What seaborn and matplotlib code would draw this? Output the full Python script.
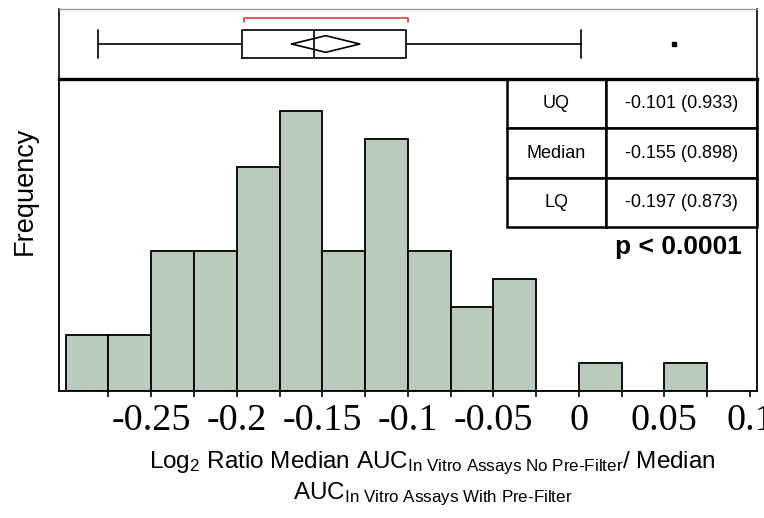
import matplotlib
matplotlib.use("Agg")
import matplotlib.pyplot as plt
import numpy as np
import seaborn as sns

# Histogram: bin edges (log2 ratio) and frequencies per bin
bin_edges = [-0.300, -0.275, -0.250, -0.225, -0.200, -0.175, -0.150, -0.125,
             -0.100, -0.075, -0.050, -0.025, 0.000, 0.025, 0.050, 0.075]
frequencies = [2, 2, 5, 5, 8, 10, 5, 9, 5, 3, 4, 0, 1, 0, 1]

# Outlier box plot summary
whisker_low = -0.281
lower_quartile = -0.197
median_value = -0.155
upper_quartile = -0.101
whisker_high = 0.001
outliers = [0.0555]
mean_value = -0.148
mean_ci_half = 0.0199
shortest_half = [-0.196, -0.100]

# Summary table and test result
table_labels = ["UQ", "Median", "LQ"]
table_values = ["-0.101 (0.933)", "-0.155 (0.898)", "-0.197 (0.873)"]
p_text = "p < 0.0001"

tick_values = [-0.25, -0.2, -0.15, -0.1, -0.05, 0, 0.05, 0.1]
tick_labels = ["-0.25", "-0.2", "-0.15", "-0.1", "-0.05", "0", "0.05", "0.1"]
minor_ticks = [-0.275, -0.225, -0.175, -0.125, -0.075, -0.025, 0.025, 0.075]

sns.set_theme(style="white")
plt.rcParams["font.family"] = ["Liberation Sans", "DejaVu Sans"]
plt.rcParams["text.color"] = "black"
plt.rcParams["axes.labelcolor"] = "black"
plt.rcParams["xtick.color"] = "black"
plt.rcParams["axes.unicode_minus"] = False
plt.rcParams["mathtext.fontset"] = "custom"
plt.rcParams["mathtext.rm"] = "Liberation Sans"
plt.rcParams["mathtext.it"] = "Liberation Sans:italic"
plt.rcParams["mathtext.bf"] = "Liberation Sans:bold"

fig = plt.figure(figsize=(7.64, 5.18), dpi=100)
ax = fig.add_axes([0.0768, 0.2458, 0.914, 0.6017])
ax_box = fig.add_axes([0.0768, 0.8475, 0.914, 0.1351], sharex=ax)

# Histogram
centers = [(a + b) / 2 for a, b in zip(bin_edges[:-1], bin_edges[1:])]
sns.histplot(x=centers, weights=frequencies, bins=bin_edges, ax=ax,
             color="#bacbbd", edgecolor="black", linewidth=1.3, alpha=1)
ax.set_xlim(-0.3041, 0.1041)
ax.set_ylim(0, 11.13)
ax.set_yticks([])
ax.set_ylabel("")
ax.set_xlabel("")
ax.set_xticks(tick_values)
ax.set_xticklabels(tick_labels, fontfamily="Liberation Serif", fontsize=27.5,
                   color="black")
ax.set_xticks(minor_ticks, minor=True)
ax.tick_params(axis="x", which="both", direction="out", length=4.5, width=1.2,
               color="black", pad=5, bottom=True)
for side in ["left", "right", "bottom"]:
    ax.spines[side].set_visible(True)
    ax.spines[side].set_color("black")
    ax.spines[side].set_linewidth(1.3)
ax.spines["top"].set_visible(False)

# Summary table in the upper right corner
tbl = ax.table(cellText=[[l, v] for l, v in zip(table_labels, table_values)],
               colWidths=[0.142, 0.216], bbox=[0.642, 0.525, 0.358, 0.475],
               cellLoc="center")
tbl.auto_set_font_size(False)
tbl.set_fontsize(13)
for cell in tbl.get_celld().values():
    cell.set_linewidth(1.8)
    cell.set_edgecolor("black")
    cell.set_facecolor("white")
    cell.get_text().set_fontfamily("Liberation Sans")
    cell.get_text().set_color("black")
ax.text(0.9785, 0.461, p_text, transform=ax.transAxes, ha="right", va="center",
        fontsize=19, fontweight="bold", color="black")

# Outlier box plot panel
stats = [dict(whislo=whisker_low, q1=lower_quartile, med=median_value,
              q3=upper_quartile, whishi=whisker_high, fliers=outliers)]
line = dict(color="black", linewidth=1.2)
ax_box.bxp(stats, positions=[0.5], widths=0.396, capwidths=0.396,
           orientation="horizontal", manage_ticks=False,
           boxprops=line, whiskerprops=line, capprops=line, medianprops=line,
           flierprops=dict(marker="s", markersize=2.4, markerfacecolor="black",
                           markeredgecolor="black"))
dh = 0.119
ax_box.plot([mean_value - mean_ci_half, mean_value, mean_value + mean_ci_half,
             mean_value, mean_value - mean_ci_half],
            [0.5, 0.5 + dh, 0.5, 0.5 - dh, 0.5], color="black", linewidth=1.2)
ax_box.plot([shortest_half[0], shortest_half[0], shortest_half[1], shortest_half[1]],
            [0.81, 0.867, 0.867, 0.81], color="#e5364c", linewidth=1.2)
ax_box.set_ylim(0, 1)
ax_box.set_yticks([])
ax_box.tick_params(axis="x", which="both", bottom=False, labelbottom=False)
for side in ["left", "right"]:
    ax_box.spines[side].set_color("black")
    ax_box.spines[side].set_linewidth(1.2)
ax_box.spines["top"].set_color("#999999")
ax_box.spines["top"].set_linewidth(1.0)
ax_box.spines["bottom"].set_color("black")
ax_box.spines["bottom"].set_linewidth(2.4)

# Axis labels
fig.text(0.032, (518 - 191) / 518, "Frequency", rotation=90, ha="center",
         va="center", fontsize=19.5, color="black")
xlabel = ("Log$_2$ Ratio Median AUC$_{\\mathrm{In\\ Vitro\\ Assays\\ No\\ Pre\\text{-}Filter}}$/ Median\n"
          "AUC$_{\\mathrm{In\\ Vitro\\ Assays\\ With\\ Pre\\text{-}Filter}}$")
fig.text(0.566, (518 - 450) / 518, xlabel, ha="center", va="top", fontsize=17.5,
         linespacing=1.2, color="black")

fig.savefig("out.png", dpi=100)
